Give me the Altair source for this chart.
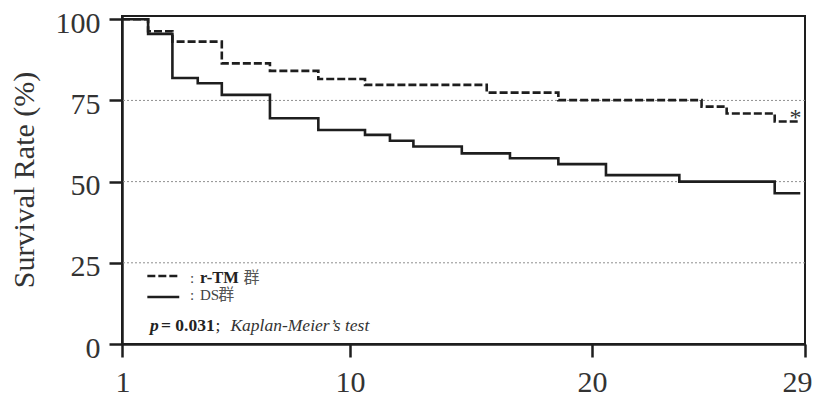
import altair as alt
import pandas as pd

# ---- data ----
ds_days = [1, 2.03, 2.99, 3.99, 4.94, 6.84, 8.75, 10.62, 11.65, 12.62, 14.62, 16.61, 18.61, 20.59, 23.69, 27.72, 28.8]
ds_surv = [100, 95.5, 81.9, 80.3, 76.7, 69.5, 65.9, 64.4, 62.6, 60.8, 58.7, 57.2, 55.4, 52.0, 50.0, 46.4, 46.4]
rtm_days = [1, 2.03, 2.99, 4.94, 6.84, 8.75, 10.62, 15.65, 18.61, 24.63, 25.69, 27.72, 28.8]
rtm_surv = [100, 96.3, 93.1, 86.4, 84.1, 81.6, 79.8, 77.4, 75.1, 73.1, 71.0, 68.5, 68.5]

x_ticks = [1, 10, 20, 29]
y_ticks = [0, 25, 50, 75, 100]
grid_levels = [25, 50, 75]
y_title = "Survival Rate (%)"

# legend / annotation texts (positions in data units)
legend_key_x = [2.0, 3.26]
legend_key_y = [20.94, 14.47]
colon_text = [":", ":"]
colon_x = [3.68, 3.68]
text_rows_y = [18.88, 13.46]
p_line_y = 3.91

FONT = "Liberation Serif"
CJK = "Noto Sans CJK JP"
DARK = "#1e1e1e"

xs = alt.Scale(domain=[1, 10, 20, 29], range=[0, 228, 470, 683], nice=False, zero=False)
ys = alt.Scale(domain=[0, 101], nice=False, zero=False)

x_axis = alt.Axis(values=x_ticks, format="d", title=None, tickSize=13, labelPadding=10,
                  labelFontSize=30, labelFont=FONT, labelColor="#333", grid=False,
                  labelFlush=True, labelFlushOffset=7,
                  domainColor=DARK, domainWidth=2.5, tickColor=DARK, tickWidth=2.5)
y_axis = alt.Axis(values=y_ticks, format="d", title=None, tickSize=13, labelPadding=9,
                  labelFontSize=30, labelFont=FONT, labelColor="#333", grid=False, labelFlush=False,
                  labelOffset=4,
                  domainColor=DARK, domainWidth=2.5, tickColor=DARK, tickWidth=2.5)

X = alt.X("x:Q", scale=xs, axis=x_axis)
Y = alt.Y("y:Q", scale=ys, axis=y_axis)

grid_df = pd.DataFrame({"y": grid_levels})
grid = alt.Chart(grid_df).mark_rule(color="#8f8f8f", strokeWidth=1, strokeDash=[2, 2]).encode(y=Y)

ds_df = pd.DataFrame({"x": ds_days, "y": ds_surv})
rtm_df = pd.DataFrame({"x": rtm_days, "y": rtm_surv})

ds_line = alt.Chart(ds_df).mark_line(interpolate="step-after", color=DARK, strokeWidth=2.6).encode(x=X, y=Y)
rtm_line = alt.Chart(rtm_df).mark_line(interpolate="step-after", color=DARK, strokeWidth=2.6,
                                       strokeDash=[8, 3]).encode(x=X, y=Y)

# legend keys
key_dash = alt.Chart(pd.DataFrame({"x": [legend_key_x[0]], "x2": [legend_key_x[1]], "y": [legend_key_y[0]]})) \
    .mark_rule(color=DARK, strokeWidth=2.6, strokeDash=[8, 3]) \
    .encode(x=X, x2=alt.X2("x2"), y=Y)
key_solid = alt.Chart(pd.DataFrame({"x": [legend_key_x[0]], "x2": [legend_key_x[1]], "y": [legend_key_y[1]]})) \
    .mark_rule(color=DARK, strokeWidth=2.6) \
    .encode(x=X, x2=alt.X2("x2"), y=Y)

def text_layer(df, size, weight="normal", style="normal", font=FONT, color="#222", align="left",
               baseline="alphabetic"):
    return alt.Chart(df).mark_text(font=font, fontSize=size, fontWeight=weight, fontStyle=style,
                                   color=color, align=align, baseline=baseline).encode(
        x=X, y=Y, text="t:N")

colons = text_layer(pd.DataFrame({"x": colon_x, "y": text_rows_y, "t": colon_text}), 15, color="#444")
rtm_lbl = text_layer(pd.DataFrame({"x": [4.08], "y": [text_rows_y[0]], "t": ["r-TM"]}), 16.5, weight="bold")
ds_lbl = text_layer(pd.DataFrame({"x": [4.08], "y": [text_rows_y[1]], "t": ["DS"]}), 15, color="#444")
cjk_lbl = text_layer(pd.DataFrame({"x": [5.8, 4.8], "y": text_rows_y, "t": ["群", "群"]}), 16,
                     font=CJK, color="#555")

p_lbl = text_layer(pd.DataFrame({"x": [2.105], "y": [p_line_y], "t": ["p"]}), 17.5, weight="bold", style="italic")
pval_lbl = text_layer(pd.DataFrame({"x": [2.54], "y": [p_line_y], "t": ["= 0.031"]}), 17.5, weight="bold")
semi_lbl = text_layer(pd.DataFrame({"x": [4.69], "y": [p_line_y], "t": [";"]}), 17.5)
km_lbl = text_layer(pd.DataFrame({"x": [5.28], "y": [p_line_y], "t": ["Kaplan-Meier’s test"]}), 17.5,
                    style="italic", color="#333")

star = text_layer(pd.DataFrame({"x": [28.6], "y": [73.4], "t": ["*"]}), 24, align="center",
                  baseline="top", color="#333")

# y-axis title drawn as rotated text to the left of the plot
title = alt.Chart(pd.DataFrame({"t": [y_title]})).mark_text(
    font=FONT, fontSize=30, color="#333", angle=270, align="center", baseline="middle"
).encode(x=alt.value(-97), y=alt.value(164), text="t:N")

chart = alt.layer(
    grid, ds_line, rtm_line, key_dash, key_solid,
    colons, rtm_lbl, ds_lbl, cjk_lbl, p_lbl, pval_lbl, semi_lbl, km_lbl, star, title
).properties(
    width=683, height=328,
    autosize=alt.AutoSizeParams(type="none"),
    padding={"left": 114, "top": 8, "right": 7, "bottom": 52},
    background="white",
).configure_view(
    stroke=DARK, strokeWidth=2
).configure_axis(
    labelFont=FONT
)

chart.save("out.html", embed_options={"renderer": "svg", "actions": False})
